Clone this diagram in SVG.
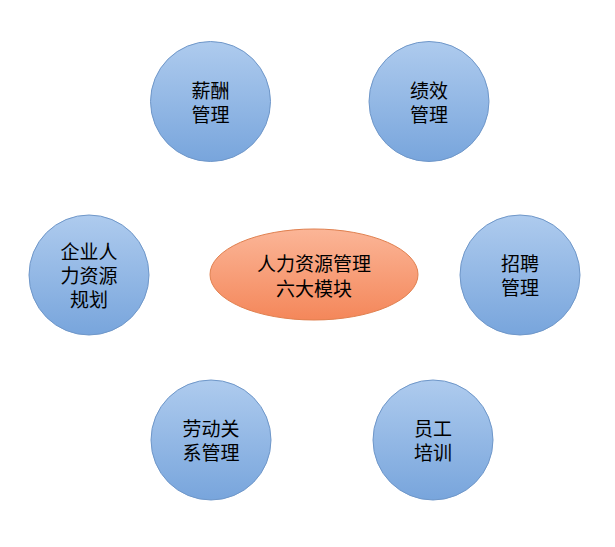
<svg xmlns="http://www.w3.org/2000/svg" width="615" height="547" viewBox="0 0 615 547">
<defs>
<linearGradient id="b" x1="0" y1="0" x2="0" y2="1"><stop offset="0" stop-color="#aecbee"/><stop offset="1" stop-color="#78a5dc"/></linearGradient>
<linearGradient id="o" x1="0" y1="0" x2="0" y2="1"><stop offset="0" stop-color="#fbb597"/><stop offset="1" stop-color="#f4875a"/></linearGradient>
</defs>
<style>
.c{fill:url(#b);stroke:#6f97c9;stroke-width:1}
.e{fill:url(#o);stroke:#e0804f;stroke-width:1}
text{font-family:"Noto Sans CJK SC",sans-serif;font-size:19px;fill:#000;text-anchor:middle}
</style>
<rect width="615" height="547" fill="#fff"/>
<g id="connectors"/>
<g id="center"><ellipse class="e" cx="314" cy="274.5" rx="104" ry="45.5"/><text x="314" y="271">人力资源管理</text><text x="314" y="296">六大模块</text></g>
<g id="n1"><circle class="c" cx="210.5" cy="101.5" r="60"/><text x="210.5" y="98">薪酬</text><text x="210.5" y="122">管理</text></g>
<g id="n2"><circle class="c" cx="429" cy="101.5" r="60"/><text x="429" y="98">绩效</text><text x="429" y="122">管理</text></g>
<g id="n3"><circle class="c" cx="89" cy="275" r="60"/><text x="89" y="259">企业人</text><text x="89" y="283">力资源</text><text x="89" y="307">规划</text></g>
<g id="n4"><circle class="c" cx="520" cy="275" r="60"/><text x="520" y="271">招聘</text><text x="520" y="295">管理</text></g>
<g id="n5"><circle class="c" cx="211" cy="440" r="60"/><text x="211" y="436">劳动关</text><text x="211" y="460">系管理</text></g>
<g id="n6"><circle class="c" cx="433" cy="440" r="60"/><text x="433" y="436">员工</text><text x="433" y="460">培训</text></g>
</svg>
